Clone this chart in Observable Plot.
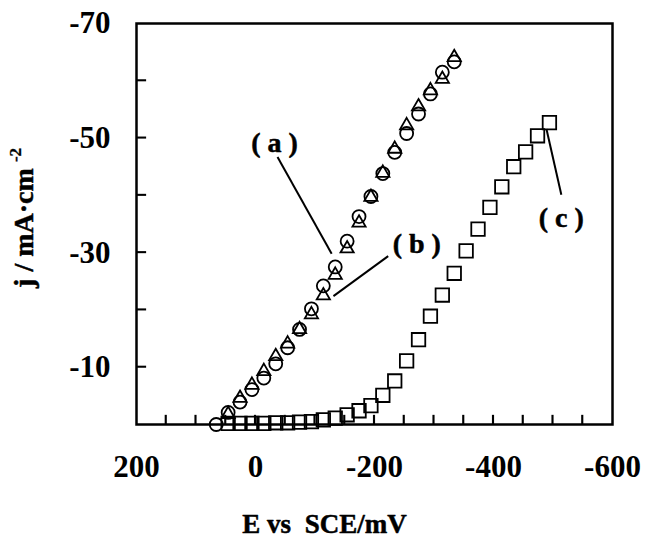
<!DOCTYPE html>
<html>
<head>
<meta charset="utf-8">
<script src="https://cdn.jsdelivr.net/npm/d3@7"></script>
<script src="https://cdn.jsdelivr.net/npm/@observablehq/plot@0.6"></script>
<style>
  html, body { margin: 0; padding: 0; background: #fff; }
</style>
</head>
<body>
<div id="chart"></div>
<script>
// Series (a) circles
const E_a = [66, 46, 26, 6, -14, -34, -54, -74, -94, -114, -134, -154, -174, -194, -214, -234, -254, -274, -294, -314, -334];
const j_a = [0, -2.1, -3.9, -6.1, -8.1, -10.6, -13.4, -16.6, -20.2, -24.2, -27.5, -32.0, -36.3, -39.8, -43.8, -47.5, -50.8, -54.2, -57.7, -61.5, -63.3];
// Series (b) triangles
const E_b = [46, 26, 6, -14, -34, -54, -74, -94, -114, -134, -154, -174, -194, -214, -234, -254, -274, -294, -314, -334];
const j_b = [-1.8, -4.6, -6.9, -9.3, -11.9, -14.1, -16.6, -19.2, -22.5, -26.1, -30.7, -35.2, -39.7, -43.9, -48.1, -52.2, -55.5, -58.3, -60.3, -64.1];
// Series (c) squares
const E_c = [46, 26, 6, -14, -34, -54, -74, -94, -114, -134, -154, -174, -194, -214, -234, -254, -274, -294, -314, -334, -354, -374, -394, -414, -434, -454, -474, -494];
const j_c = [-0.2, -0.2, -0.2, -0.2, -0.3, -0.3, -0.4, -0.5, -0.8, -1.1, -1.7, -2.4, -3.3, -5.1, -7.6, -11.1, -14.8, -18.9, -22.6, -26.4, -30.3, -34.1, -37.9, -41.5, -45.0, -47.6, -50.4, -52.7];

// Axis ticks and labels
const xMinorTicks = [150, 100, 50, 0, -50, -100, -150, -200, -250, -300, -350, -400, -450, -500, -550];
const xLabelTicks = [200, 0, -200, -400, -600];
const yMinorTicks = [-10, -20, -30, -40, -50, -60];
const yLabelTicks = [-10, -30, -50, -70];

// Annotation labels (data coordinates)
const annLabels = ["( a )", "( b )", "( c )"];
const annTextE = [-32, -271, -514];
const annTextJ = [-49.2, -31.5, -36.1];
const annLineE1 = [-37, -223, -514];
const annLineJ1 = [-46.7, -29.4, -40.1];
const annLineE2 = [-128, -131, -489];
const annLineJ2 = [-29.8, -22.4, -51.6];

const xTitle = "E vs\u00a0 SCE/mV";
const yTitle = "j / mA·cm";
const ySup = "-2";

const serif = "'Liberation Serif', 'Times New Roman', Times, serif";

const A = E_a.map((e, i) => ({E: e, j: j_a[i]}));
const B = E_b.map((e, i) => ({E: e, j: j_b[i]}));
const C = E_c.map((e, i) => ({E: e, j: j_c[i]}));
const ann = annLabels.map((t, i) => ({t, x: annTextE[i], y: annTextJ[i], x1: annLineE1[i], y1: annLineJ1[i], x2: annLineE2[i], y2: annLineJ2[i]}));

const boldText = {fontWeight: "bold", fontFamily: serif, fill: "black", stroke: "black", strokeWidth: 0.5};

const chart = Plot.plot({
  width: 645,
  height: 551,
  marginLeft: 136,
  marginRight: 33,
  marginTop: 23,
  marginBottom: 127,
  style: {fontFamily: serif, background: "white", color: "black"},
  x: {domain: [200, -600], label: null},
  y: {domain: [0, -70], label: null},
  marks: [
    Plot.frame({stroke: "black", strokeWidth: 2.5, fill: "none"}),
    // inward tick marks drawn as small filled bars from the frame edges
    Plot.rect(xMinorTicks, {x1: d => d + 1.8, x2: d => d - 1.8, y1: 0, y2: -1.6, fill: "black"}),
    Plot.rect(yMinorTicks, {y1: d => d + 0.18, y2: d => d - 0.18, x1: 200, x2: 183, fill: "black"}),
    Plot.axisX(xLabelTicks, {tickSize: 0, tickPadding: 30, tickFormat: d => String(d), fontSize: 31, label: null, ...boldText}),
    Plot.axisY(yLabelTicks, {tickSize: 0, tickPadding: 26, tickFormat: d => String(d), fontSize: 31, label: null, ...boldText}),
    Plot.dot(C, {x: "E", y: "j", symbol: "square", r: 7.6, stroke: "black", strokeWidth: 1.8, fill: "none"}),
    Plot.dot(A, {x: "E", y: "j", symbol: "circle", r: 6.5, stroke: "black", strokeWidth: 1.8, fill: "none"}),
    Plot.dot(B, {x: "E", y: "j", symbol: "triangle", r: 4.9, stroke: "black", strokeWidth: 1.8, fill: "none"}),
    Plot.link(ann, {x1: "x1", y1: "y1", x2: "x2", y2: "y2", stroke: "black", strokeWidth: 2}),
    Plot.text(ann, {x: "x", y: "y", text: "t", fontSize: 28, ...boldText}),
    Plot.text([xTitle], {frameAnchor: "bottom", textAnchor: "middle", dx: -50, dy: 108, fontSize: 27, ...boldText}),
    Plot.text([yTitle], {frameAnchor: "left", textAnchor: "middle", rotate: -90, dx: -112, dy: 4, fontSize: 28, ...boldText}),
    Plot.text([ySup], {frameAnchor: "left", textAnchor: "middle", rotate: -90, dx: -121, dy: -69, fontSize: 17, ...boldText, strokeWidth: 0.3})
  ]
});
document.getElementById("chart").appendChild(chart);
</script>
</body>
</html>
